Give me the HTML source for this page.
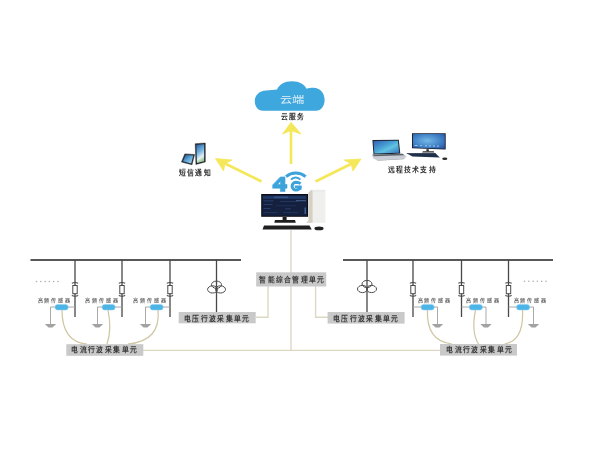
<!DOCTYPE html>
<html lang="zh-CN"><head><meta charset="utf-8">
<style>
html,body{margin:0;padding:0;background:#fff;width:600px;height:454px;overflow:hidden;}
svg{position:absolute;left:0;top:0;filter:blur(0.4px);}
text{font-family:"Liberation Serif",serif;font-weight:bold;}
</style></head>
<body>
<svg width="600" height="454" viewBox="0 0 600 454">
<defs>
  <linearGradient id="scr" x1="0" y1="0" x2="1" y2="1">
    <stop offset="0" stop-color="#1d4f8f"/><stop offset="0.5" stop-color="#5fa8d8"/><stop offset="1" stop-color="#b9dcef"/>
  </linearGradient>
  <linearGradient id="scr2" x1="0" y1="0" x2="1" y2="0">
    <stop offset="0" stop-color="#2a5fa5"/><stop offset="0.5" stop-color="#4f9ed8"/><stop offset="1" stop-color="#2a62a8"/>
  </linearGradient>
  <linearGradient id="tower" x1="0" y1="0" x2="1" y2="0">
    <stop offset="0" stop-color="#cfcbc2"/><stop offset="0.25" stop-color="#f2f2f0"/><stop offset="1" stop-color="#e9e9e9"/>
  </linearGradient>
  <linearGradient id="scrv" x1="0" y1="0" x2="0.3" y2="1">
    <stop offset="0" stop-color="#2a5d9c"/><stop offset="0.45" stop-color="#6fb0df"/><stop offset="0.8" stop-color="#e4f1f6"/><stop offset="1" stop-color="#9cc89a"/>
  </linearGradient>
  <linearGradient id="scrl" x1="0" y1="0" x2="1" y2="1">
    <stop offset="0" stop-color="#2f5fb0"/><stop offset="0.45" stop-color="#4aa6d8"/><stop offset="0.6" stop-color="#62c3e0"/><stop offset="1" stop-color="#3572c0"/>
  </linearGradient>
  <radialGradient id="scr3" cx="0.45" cy="0.45" r="0.75">
    <stop offset="0" stop-color="#74b9e6"/><stop offset="0.6" stop-color="#3f7fc6"/><stop offset="1" stop-color="#24519c"/>
  </radialGradient>
</defs>

<!-- ===== connection lines (tan) ===== -->
<g stroke="#ddd7c4" stroke-width="1.4" fill="none">
  <path d="M291 230 V350.5"/>
  <path d="M143 350.4 H440"/>
  <path d="M268 286 V317.2 H256"/>
  <path d="M315.6 286 V317.2 H328"/>
</g>
<!-- curves sensor -> current unit -->
<g stroke="#d0c6a2" stroke-width="1.25" fill="none">
  <path d="M62 310 Q62 342 87 344"/>
  <path d="M108 310 Q112 330 107 344"/>
  <path d="M158 310 Q161 341 128 344"/>
  <path d="M427.5 310 Q426 341 452 344"/>
  <path d="M475.5 310 Q471 332 478.5 344"/>
  <path d="M522.5 310 Q524 341 504.5 344"/>
</g>

<!-- ===== bus bars ===== -->
<g stroke="#585858" stroke-width="2" fill="none">
  <path d="M30.5 260 H241"/>
  <path d="M343 260 H553"/>
</g>
<!-- vertical feeders -->
<g stroke="#484848" stroke-width="1.3" fill="none">
  <path d="M75 260 V317"/>
  <path d="M122 260 V317"/>
  <path d="M170 260 V317"/>
  <path d="M413 260 V317"/>
  <path d="M461.5 260 V317"/>
  <path d="M508.5 260 V317"/>
  <path d="M216.5 260 V312"/>
  <path d="M367 260 V312"/>
</g>
<!-- fuses -->
<g id="fuses" stroke="#4a4a4a" fill="#fff">
  <g transform="translate(75 0)"><path d="M-3.2 283.2 Q0 281.8 3.2 283.2 M-3.2 295.6 Q0 297 3.2 295.6" stroke-width="1.1" fill="none"/><rect x="-2.2" y="285.5" width="4.4" height="8.2" stroke-width="1"/></g>
  <g transform="translate(122 0)"><path d="M-3.2 283.2 Q0 281.8 3.2 283.2 M-3.2 295.6 Q0 297 3.2 295.6" stroke-width="1.1" fill="none"/><rect x="-2.2" y="285.5" width="4.4" height="8.2" stroke-width="1"/></g>
  <g transform="translate(170 0)"><path d="M-3.2 283.2 Q0 281.8 3.2 283.2 M-3.2 295.6 Q0 297 3.2 295.6" stroke-width="1.1" fill="none"/><rect x="-2.2" y="285.5" width="4.4" height="8.2" stroke-width="1"/></g>
  <g transform="translate(413 0)"><path d="M-3.2 283.2 Q0 281.8 3.2 283.2 M-3.2 295.6 Q0 297 3.2 295.6" stroke-width="1.1" fill="none"/><rect x="-2.2" y="285.5" width="4.4" height="8.2" stroke-width="1"/></g>
  <g transform="translate(461.5 0)"><path d="M-3.2 283.2 Q0 281.8 3.2 283.2 M-3.2 295.6 Q0 297 3.2 295.6" stroke-width="1.1" fill="none"/><rect x="-2.2" y="285.5" width="4.4" height="8.2" stroke-width="1"/></g>
  <g transform="translate(508.5 0)"><path d="M-3.2 283.2 Q0 281.8 3.2 283.2 M-3.2 295.6 Q0 297 3.2 295.6" stroke-width="1.1" fill="none"/><rect x="-2.2" y="285.5" width="4.4" height="8.2" stroke-width="1"/></g>
</g>
<!-- transformers -->
<g stroke="#4a4a4a" stroke-width="1" fill="none">
  <ellipse cx="216.5" cy="284.7" rx="5" ry="3.6"/>
  <ellipse cx="212.6" cy="289.4" rx="5" ry="3.6"/>
  <ellipse cx="220.5" cy="289.4" rx="5" ry="3.6"/>
  <ellipse cx="367" cy="284" rx="5" ry="3.6"/>
  <ellipse cx="362.5" cy="289" rx="5" ry="3.6"/>
  <ellipse cx="371.5" cy="289" rx="5" ry="3.6"/>
</g>
<!-- dots -->
<g fill="#a8a8a8">
  <circle cx="36.5" cy="281.5" r="0.75"/><circle cx="40.8" cy="281.5" r="0.75"/><circle cx="45.1" cy="281.5" r="0.75"/><circle cx="49.4" cy="281.5" r="0.75"/><circle cx="53.7" cy="281.5" r="0.75"/><circle cx="58" cy="281.5" r="0.75"/>
  <circle cx="524.5" cy="281.2" r="0.75"/><circle cx="528.8" cy="281.2" r="0.75"/><circle cx="533.1" cy="281.2" r="0.75"/><circle cx="537.4" cy="281.2" r="0.75"/><circle cx="541.7" cy="281.2" r="0.75"/><circle cx="546" cy="281.2" r="0.75"/>
</g>

<!-- sensors: thin lines + ground -->
<g stroke="#a0a0a0" stroke-width="0.9" fill="none">
  <path d="M50.5 307 H75 M50.5 307 V324"/>
  <path d="M97.5 307 H122 M97.5 307 V324"/>
  <path d="M145.5 307 H170 M145.5 307 V324"/>
  <path d="M413 307 H437.5 V324"/>
  <path d="M461.5 307 H486 V324"/>
  <path d="M508.5 307 H533.5 V324"/>
</g>
<g fill="#a2a2a2">
  <path d="M44.8 324 H56.2 L52.5 327.6 H48.5 Z"/>
  <path d="M91.8 324 H103.2 L99.5 327.6 H95.5 Z"/>
  <path d="M139.8 324 H151.2 L147.5 327.6 H143.5 Z"/>
  <path d="M431.8 324 H443.2 L439.5 327.6 H435.5 Z"/>
  <path d="M480.3 324 H491.7 L488.0 327.6 H484.0 Z"/>
  <path d="M527.8 324 H539.2 L535.5 327.6 H531.5 Z"/>
</g>
<g fill="#4db4e8" stroke="#8fd0f0" stroke-width="0.6">
  <rect x="55" y="304.4" width="13.2" height="5.6" rx="2.8"/>
  <rect x="102" y="304.4" width="13.2" height="5.6" rx="2.8"/>
  <rect x="150" y="304.4" width="13.2" height="5.6" rx="2.8"/>
  <rect x="421" y="304.4" width="13.2" height="5.6" rx="2.8"/>
  <rect x="469.2" y="304.4" width="13.2" height="5.6" rx="2.8"/>
  <rect x="516.5" y="304.4" width="13.2" height="5.6" rx="2.8"/>
</g>
<g fill="#707070" font-size="5" style="font-weight:normal">
  <text id="t_s1" x="37.5" y="302.4" textLength="32.6" lengthAdjust="spacing">高频传感器</text>
  <text x="85" y="302.4" textLength="32.6" lengthAdjust="spacing">高频传感器</text>
  <text x="133" y="302.4" textLength="32.6" lengthAdjust="spacing">高频传感器</text>
  <text x="417.5" y="302.4" textLength="32.6" lengthAdjust="spacing">高频传感器</text>
  <text x="466" y="302.4" textLength="32.6" lengthAdjust="spacing">高频传感器</text>
  <text x="513.5" y="302.4" textLength="32.6" lengthAdjust="spacing">高频传感器</text>
</g>

<!-- ===== unit boxes ===== -->
<g fill="#c9c9c9">
  <rect x="66.3" y="344.2" width="77" height="11.6"/>
  <rect x="440" y="344" width="77" height="11.6"/>
  <rect x="178.7" y="312" width="77" height="11.3"/>
  <rect x="327.6" y="312" width="77" height="11.6"/>
  <rect x="256.2" y="272.3" width="70" height="14.2"/>
</g>
<g fill="#3a3a3a" font-size="6.8">
  <text id="t_cur1" x="71.3" y="352.1" textLength="65.6" lengthAdjust="spacing">电流行波采集单元</text>
  <text id="t_cur2" x="446.3" y="352.1" textLength="65.6" lengthAdjust="spacing">电流行波采集单元</text>
  <text id="t_vol1" x="184" y="320.7" textLength="65.2" lengthAdjust="spacing">电压行波采集单元</text>
  <text id="t_vol2" x="333" y="320.7" textLength="65.2" lengthAdjust="spacing">电压行波采集单元</text>
  <text id="t_mgmt" x="259.3" y="282.2" textLength="64.8" lengthAdjust="spacing">智能综合管理单元</text>
</g>

<!-- ===== arrows ===== -->
<g fill="#f5e75a" stroke="#f5e75a" stroke-linejoin="round">
  <path d="M291 164 V130" stroke-width="2.6" fill="none"/>
  <path d="M291 122.3 L301 134 L291 130.5 L282.5 134 Z" stroke-width="0.8"/>
  <path d="M261.5 181.5 L222 162" stroke-width="2.8" fill="none"/>
  <path d="M215.5 158.5 L232 160 L225 163.5 L223.5 171 Z" stroke-width="0.8"/>
  <path d="M315.5 181.5 L354 162.5" stroke-width="2.8" fill="none"/>
  <path d="M361 159 L344 160 L351 163.5 L353 171 Z" stroke-width="0.8"/>
</g>

<!-- ===== cloud ===== -->
<path fill="#3ea7de" d="M263 110.8 C257.5 110.8 254.8 106 254.8 101 C254.8 95 259.5 90.6 266 90.4 C270 90.3 274 89.8 277 89.6 C279 84.5 284.5 81.2 292 81.2 C299.5 81.2 304.5 84.5 306.6 88.8 C308.5 88.2 311 87.8 313.5 87.8 C320 87.8 324.6 93 324.6 100 C324.6 106 321 110.8 316 110.8 Z"/>
<text id="t_cloud" font-weight="normal" style="font-weight:normal" x="280" y="103.2" font-size="9.3" fill="#e3f2fb" textLength="23.8" lengthAdjust="spacingAndGlyphs">云端</text>
<text id="t_cloudsvc" x="281.3" y="119.3" font-size="6.8" fill="#333" textLength="22.5" lengthAdjust="spacing">云服务</text>

<!-- ===== phones ===== -->
<g>
  <path d="M184.8 153.9 L194.6 154.5 L192 164.8 L181.5 162 Z" fill="#222a30" stroke="#222a30" stroke-width="0.5" stroke-linejoin="round"/>
  <path d="M185.6 155 L193.3 155.5 L191.2 163.4 L183 161.2 Z" fill="url(#scr)"/>
  <path d="M195.2 143.7 L205.3 143 L205.3 162 L195.9 164.5 Z" fill="#1e2226" stroke="#1e2226" stroke-width="0.4" stroke-linejoin="round"/>
  <path d="M196.3 144.8 L204.2 144.3 L204.2 161.2 L196.9 163 Z" fill="url(#scrv)"/>
</g>
<text id="t_sms" x="178.5" y="175.1" font-size="6.8" fill="#333" textLength="32.3" lengthAdjust="spacing">短信通知</text>

<!-- ===== remote support ===== -->
<g>
  <!-- laptop -->
  <path d="M372.4 140.1 L398.8 139.8 L400.3 153.7 L373.5 154.4 Z" fill="#1c2433"/>
  <path d="M373.5 141.1 L397.9 140.8 L399.2 152.8 L374.4 153.4 Z" fill="url(#scrl)"/>
  <path d="M371.8 154.6 L403 153.8 L406.5 156.4 L404.5 158.6 L377 160.2 L373.2 158.4 Z" fill="#c9ced6"/>
  <path d="M372.5 154.6 L402.5 153.8 L404.5 155.2 L374 156.2 Z" fill="#5d636b"/>
  <path d="M377 160.2 L404.5 158.6 L404 159.2 L377.5 160.8 Z" fill="#9aa3ad"/>
  <!-- desktop -->
  <path d="M412 133.2 H445.7 V149.6 L412 148.2 Z" fill="#151b2a"/>
  <path d="M412.9 134.1 H444.8 V148.7 L412.9 147.4 Z" fill="url(#scr3)"/>
    <g fill="#bfe3f5" opacity="0.7"><rect x="414.5" y="145" width="3" height="1"/><rect x="420" y="145.2" width="2" height="1"/><rect x="425" y="145.3" width="2" height="1"/><rect x="429" y="145.4" width="2" height="1"/><rect x="433" y="145.5" width="2" height="1"/><rect x="437" y="145.6" width="2" height="1"/></g>
  <rect x="426.4" y="149.2" width="2.4" height="2.2" fill="#2a2a2a"/>
  <path d="M422 152.4 L423 151.2 H433.6 L434.4 152.4 Z" fill="#2c2c2c"/>
  <path d="M406.4 153.2 L435.2 152.9 L439.8 157.6 L412.5 156.4 Z" fill="#22314a"/>
  <path d="M406.4 153.2 L435.2 152.9 L436 153.8 L407.5 154.1 Z" fill="#3b4a60"/>
  <ellipse cx="444.8" cy="158.8" rx="2.6" ry="1.3" fill="#2a2a2a"/>
</g>
<text id="t_remote" x="387.5" y="171.7" font-size="6.8" fill="#333" textLength="48" lengthAdjust="spacing">远程技术支持</text>

<!-- ===== 4G ===== -->
<g fill="#3ca3db" stroke="#3ca3db" stroke-width="0.6" stroke-linejoin="round">
  <path fill-rule="evenodd" d="M280.4 176.9 H285 V184.5 H287 V188.2 H285 V191.6 H280.4 V188.2 H272.7 V184.9 Z M277.6 184.5 H280.4 V181.3 Z"/>
</g>
<g fill="none" stroke="#3ca3db">
  <path d="M300.6 183.6 Q298.8 182.3 295.8 182.3 A3.9 3.9 0 1 0 299.9 186.4" stroke-width="3"/>
  <path d="M301.5 186.7 H294.8" stroke-width="2.4"/>
  <path d="M300.4 186 V189.8" stroke-width="2.2"/>
  <path d="M286 176.6 A15.5 15.5 0 0 1 305.6 176.6" stroke-width="3"/>
  <path d="M291 179.6 A6 6 0 0 1 300.3 179.6" stroke-width="2"/>
</g>
<!-- ===== computer ===== -->
<g>
  <rect x="261.2" y="194" width="47" height="22.8" fill="#0c0d14"/>
  <rect x="262.2" y="195" width="45" height="20.8" fill="#15203e"/>
  <g opacity="0.55">
    <rect x="263" y="196.2" width="43" height="2.6" fill="#2a4f8a"/>
    <rect x="274" y="196.5" width="14" height="1.6" fill="#4d7fc0"/>
    <rect x="263.5" y="200.5" width="10" height="0.8" fill="#3a66a8"/><rect x="280" y="201" width="18" height="0.8" fill="#2f5592"/><rect x="296" y="200.2" width="10" height="1" fill="#6d9ad0"/>
    <rect x="263.5" y="204" width="9" height="0.8" fill="#3a66a8"/><rect x="276" y="205.5" width="20" height="0.6" fill="#2c4e88"/>
    <rect x="263.5" y="208" width="7" height="0.8" fill="#3a66a8"/><rect x="285" y="208.5" width="6" height="0.8" fill="#3a66a8"/>
    <rect x="304.5" y="207.5" width="1.5" height="6.5" fill="#5c8fd0"/>
    <rect x="263.5" y="212" width="14" height="0.7" fill="#2f5592"/><rect x="283" y="212" width="15" height="0.7" fill="#2f5592"/>
  </g>
  <rect x="282.6" y="217" width="4" height="3" fill="#1c1c1c"/>
  <path d="M274.3 222.8 L275 220 H295 L295.8 222.8 Z" fill="#1e1e1e"/>
  <path d="M308.5 222.8 V192.5 L311.5 189.8 H325.4 V222.8 Z" fill="#efefee"/>
  <path d="M306 222.8 L308.5 220.5 V192.5 L311.5 189.8 L312.6 191 V222.8 Z" fill="#d6d0c4"/>
  <path d="M312.6 191 H325.4" stroke="#dcdcdc" stroke-width="0.5"/>
  <path d="M262.5 229.4 L264 225.5 H309.5 L311.7 229.4 Z" fill="#1f1f1f"/>
  <ellipse cx="319" cy="228.4" rx="4.6" ry="1.9" fill="#222"/>
</g>
</svg>
</body></html>
